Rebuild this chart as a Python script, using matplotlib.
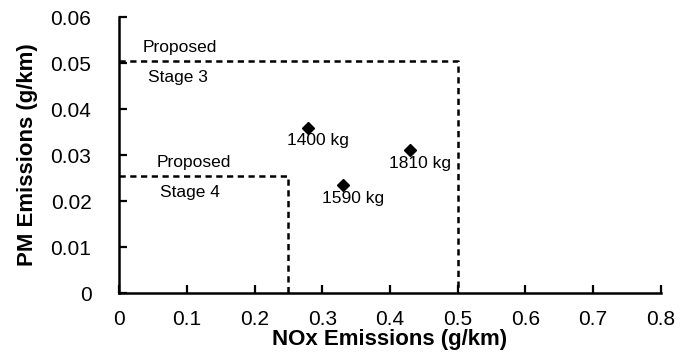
import matplotlib.pyplot as plt

# vehicle data points
nox = [0.279, 0.331, 0.430]
pm = [0.0359, 0.0235, 0.0310]
labels = ["1400 kg", "1590 kg", "1810 kg"]

# proposed limits (NOx, PM)
stage3 = (0.5, 0.0505)
stage4 = (0.25, 0.0255)

xticks = [0, 0.1, 0.2, 0.3, 0.4, 0.5, 0.6, 0.7, 0.8]
yticks = [0, 0.01, 0.02, 0.03, 0.04, 0.05, 0.06]

plt.rcParams['font.family'] = ['Liberation Sans', 'DejaVu Sans']

fig = plt.figure(figsize=(6.89, 3.64), dpi=100)
ax = fig.add_axes([0.173, 0.195, 0.786, 0.758])

# limit boxes
for nx, p in [stage3, stage4]:
    ax.plot([0, nx, nx], [p, p, 0], color='black', linestyle=(0, (2.5, 1.8)), lw=1.8)

ax.text(0.034, stage3[1] + 0.0012, "Proposed", fontsize=12.5, ha='left', va='bottom')
ax.text(0.043, stage3[1] - 0.0021, "Stage 3", fontsize=12.5, ha='left', va='top')
ax.text(0.056, stage4[1] + 0.0012, "Proposed", fontsize=12.5, ha='left', va='bottom')
ax.text(0.060, stage4[1] - 0.0021, "Stage 4", fontsize=12.5, ha='left', va='top')

ax.plot(nox, pm, linestyle='none', marker='D', color='black', markersize=6.5)
for x, y, s in zip(nox, pm, labels):
    ax.annotate(s, (x, y), xytext=(7, -4), textcoords='offset points',
                fontsize=12.5, ha='center', va='top')

ax.set_xlim(0, 0.8)
ax.set_ylim(0, 0.06)
ax.set_xticks(xticks)
ax.set_xticklabels([str(t) for t in xticks])
ax.set_yticks(yticks)
ax.set_yticklabels([str(t) for t in yticks])

ax.spines['top'].set_visible(False)
ax.spines['right'].set_visible(False)
ax.spines['left'].set_linewidth(1.8)
ax.spines['bottom'].set_linewidth(1.8)
ax.tick_params(axis='both', direction='in', length=6, width=1.6, labelsize=15)
ax.tick_params(axis='x', pad=12)
ax.tick_params(axis='y', pad=20)

ax.set_xlabel("NOx Emissions (g/km)", fontsize=16, fontweight='bold', labelpad=0)
ax.set_ylabel("PM Emissions (g/km)", fontsize=16, fontweight='bold', labelpad=9)

fig.savefig("out.png", dpi=100)
